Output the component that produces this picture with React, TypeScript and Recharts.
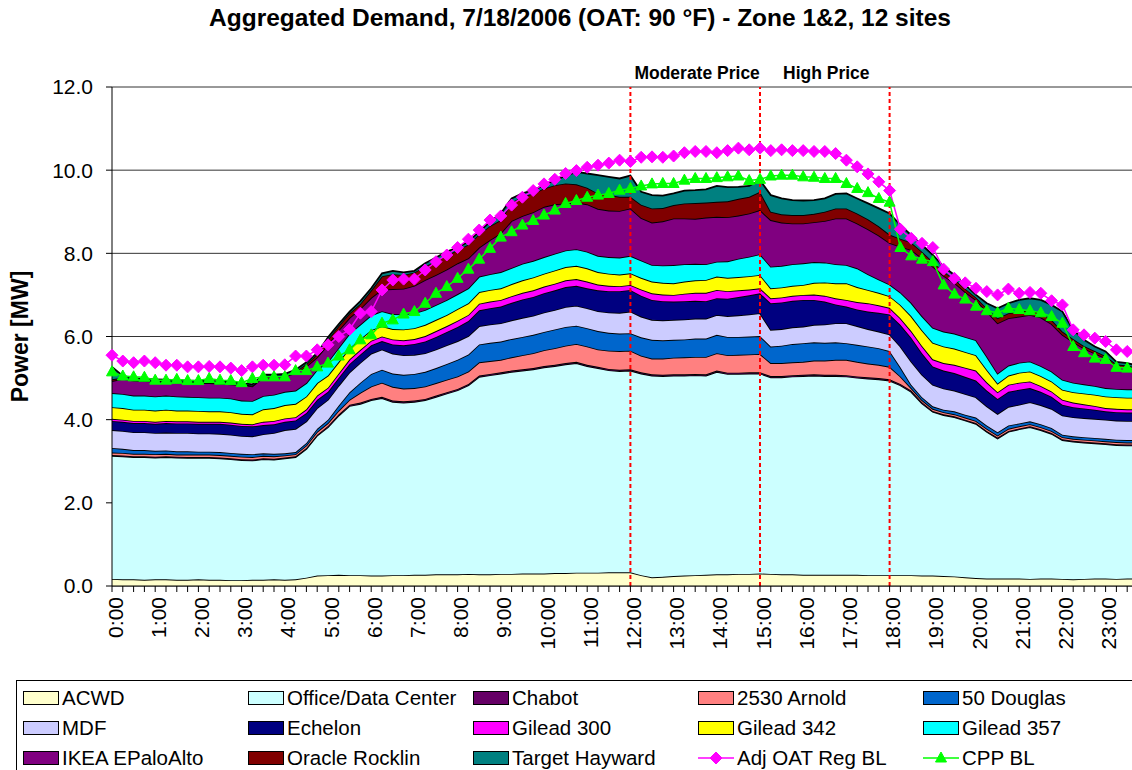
import React from 'react';
import { ComposedChart, Area, Line, XAxis, YAxis, CartesianGrid, ReferenceLine } from 'recharts';

const FONT = '"Liberation Sans", Arial, Helvetica, sans-serif';

// 15-minute intervals, 0:00 .. 23:45
const quarters = ['00', '15', '30', '45'];
const times = Array.from({ length: 96 }, (_, i) => `${Math.floor(i / 4)}:${quarters[i % 4]}`);

const yTicks = [0, 2, 4, 6, 8, 10, 12];

// stacked site loads [MW], one row per hour
const acwd = [
  0.17, 0.16, 0.16, 0.15, 0.16, 0.16, 0.15, 0.15, 0.16, 0.15, 0.15, 0.14,
  0.14, 0.15, 0.15, 0.16, 0.15, 0.16, 0.2, 0.25, 0.26, 0.27, 0.26, 0.26,
  0.25, 0.25, 0.26, 0.26, 0.27, 0.27, 0.28, 0.28, 0.28, 0.29, 0.28, 0.28,
  0.29, 0.29, 0.3, 0.3, 0.3, 0.31, 0.31, 0.32, 0.32, 0.32, 0.33, 0.33,
  0.33, 0.26, 0.21, 0.22, 0.24, 0.25, 0.26, 0.27, 0.28, 0.28, 0.29, 0.29,
  0.3, 0.29, 0.28, 0.28, 0.27, 0.27, 0.27, 0.27, 0.27, 0.27, 0.26, 0.26,
  0.26, 0.26, 0.26, 0.25, 0.25, 0.24, 0.23, 0.21, 0.19, 0.18, 0.18, 0.18,
  0.18, 0.17, 0.18, 0.18, 0.17, 0.16, 0.17, 0.18, 0.18, 0.17, 0.18, 0.18,
];
const office = [
  2.96, 2.96, 2.94, 2.95, 2.93, 2.94, 2.94, 2.93, 2.92, 2.93, 2.92, 2.91,
  2.89, 2.87, 2.9, 2.88, 2.92, 2.94, 3.1, 3.37, 3.56, 3.83, 4.07, 4.12,
  4.22, 4.27, 4.17, 4.15, 4.16, 4.2, 4.27, 4.35, 4.43, 4.54, 4.75, 4.79,
  4.82, 4.86, 4.88, 4.91, 4.96, 4.98, 5.02, 5.04, 4.97, 4.92, 4.86, 4.84,
  4.85, 4.85, 4.85, 4.83, 4.82, 4.81, 4.81, 4.79, 4.87, 4.82, 4.81, 4.82,
  4.81, 4.73, 4.74, 4.76, 4.78, 4.79, 4.78, 4.78, 4.77, 4.74, 4.73, 4.71,
  4.68, 4.57, 4.41, 4.14, 3.94, 3.87, 3.83, 3.77, 3.71, 3.53, 3.37, 3.53,
  3.59, 3.65, 3.57, 3.48, 3.34, 3.31, 3.28, 3.25, 3.23, 3.22, 3.2, 3.2,
];
const chabot = [
  0.02, 0.02, 0.02, 0.02, 0.02, 0.02, 0.02, 0.02, 0.02, 0.02, 0.02, 0.02,
  0.02, 0.02, 0.02, 0.02, 0.02, 0.02, 0.02, 0.02, 0.03, 0.03, 0.03, 0.03,
  0.03, 0.03, 0.03, 0.03, 0.03, 0.03, 0.03, 0.03, 0.03, 0.03, 0.03, 0.03,
  0.03, 0.03, 0.03, 0.03, 0.03, 0.03, 0.03, 0.03, 0.03, 0.03, 0.03, 0.03,
  0.03, 0.03, 0.03, 0.03, 0.03, 0.03, 0.03, 0.03, 0.03, 0.03, 0.03, 0.03,
  0.03, 0.03, 0.03, 0.03, 0.03, 0.03, 0.03, 0.03, 0.03, 0.03, 0.03, 0.03,
  0.03, 0.03, 0.03, 0.03, 0.02, 0.02, 0.02, 0.02, 0.02, 0.02, 0.02, 0.02,
  0.02, 0.02, 0.02, 0.02, 0.02, 0.02, 0.02, 0.02, 0.02, 0.02, 0.02, 0.02,
];
const arnold = [
  0.06, 0.06, 0.06, 0.06, 0.06, 0.06, 0.05, 0.06, 0.06, 0.06, 0.06, 0.06,
  0.06, 0.06, 0.06, 0.06, 0.05, 0.05, 0.06, 0.07, 0.07, 0.09, 0.12, 0.24,
  0.3, 0.34, 0.33, 0.31, 0.3, 0.3, 0.3, 0.3, 0.3, 0.3, 0.32, 0.31,
  0.3, 0.32, 0.34, 0.36, 0.38, 0.4, 0.42, 0.43, 0.44, 0.42, 0.44, 0.45,
  0.45, 0.4, 0.38, 0.39, 0.4, 0.41, 0.41, 0.42, 0.42, 0.42, 0.43, 0.43,
  0.44, 0.31, 0.31, 0.31, 0.31, 0.33, 0.34, 0.36, 0.37, 0.35, 0.33, 0.32,
  0.3, 0.18, 0.06, 0.05, 0.05, 0.05, 0.05, 0.05, 0.05, 0.05, 0.05, 0.05,
  0.05, 0.05, 0.05, 0.05, 0.05, 0.05, 0.05, 0.05, 0.05, 0.05, 0.05, 0.05,
];
const douglas = [
  0.11, 0.1, 0.09, 0.09, 0.08, 0.08, 0.08, 0.08, 0.07, 0.07, 0.07, 0.07,
  0.07, 0.07, 0.06, 0.06, 0.05, 0.05, 0.06, 0.07, 0.08, 0.12, 0.18, 0.24,
  0.3, 0.31, 0.32, 0.33, 0.34, 0.35, 0.36, 0.38, 0.4, 0.41, 0.43, 0.44,
  0.44, 0.44, 0.44, 0.44, 0.44, 0.45, 0.45, 0.44, 0.44, 0.44, 0.43, 0.42,
  0.42, 0.44, 0.45, 0.44, 0.43, 0.43, 0.44, 0.44, 0.44, 0.44, 0.43, 0.43,
  0.43, 0.4, 0.42, 0.44, 0.45, 0.44, 0.43, 0.42, 0.4, 0.41, 0.41, 0.4,
  0.38, 0.22, 0.08, 0.07, 0.06, 0.06, 0.07, 0.07, 0.08, 0.08, 0.08, 0.08,
  0.07, 0.07, 0.07, 0.07, 0.06, 0.06, 0.06, 0.06, 0.06, 0.06, 0.06, 0.06,
];
const mdf = [
  0.43, 0.43, 0.43, 0.43, 0.43, 0.43, 0.44, 0.44, 0.44, 0.44, 0.44, 0.44,
  0.43, 0.43, 0.46, 0.5, 0.56, 0.56, 0.52, 0.5, 0.48, 0.48, 0.48, 0.48,
  0.49, 0.49, 0.48, 0.47, 0.46, 0.45, 0.45, 0.45, 0.45, 0.44, 0.44, 0.44,
  0.44, 0.45, 0.46, 0.46, 0.47, 0.47, 0.48, 0.48, 0.48, 0.48, 0.49, 0.5,
  0.52, 0.5, 0.48, 0.48, 0.48, 0.48, 0.48, 0.48, 0.48, 0.5, 0.52, 0.53,
  0.55, 0.4, 0.4, 0.4, 0.4, 0.42, 0.44, 0.46, 0.48, 0.45, 0.42, 0.4,
  0.4, 0.5, 0.56, 0.54, 0.52, 0.51, 0.5, 0.5, 0.49, 0.46, 0.44, 0.45,
  0.45, 0.46, 0.46, 0.46, 0.46, 0.46, 0.46, 0.46, 0.46, 0.46, 0.46, 0.46,
];
const echelon = [
  0.22, 0.22, 0.22, 0.22, 0.22, 0.23, 0.23, 0.23, 0.23, 0.23, 0.24, 0.24,
  0.24, 0.24, 0.22, 0.21, 0.2, 0.2, 0.2, 0.2, 0.19, 0.19, 0.2, 0.2,
  0.2, 0.2, 0.22, 0.24, 0.26, 0.28, 0.3, 0.32, 0.34, 0.36, 0.38, 0.39,
  0.4, 0.42, 0.44, 0.45, 0.46, 0.47, 0.48, 0.48, 0.48, 0.5, 0.51, 0.52,
  0.52, 0.5, 0.48, 0.46, 0.44, 0.44, 0.43, 0.42, 0.4, 0.42, 0.44, 0.46,
  0.48, 0.64, 0.64, 0.64, 0.64, 0.6, 0.55, 0.45, 0.4, 0.4, 0.42, 0.45,
  0.48, 0.52, 0.57, 0.52, 0.44, 0.43, 0.42, 0.41, 0.4, 0.38, 0.36, 0.36,
  0.36, 0.34, 0.32, 0.29, 0.26, 0.24, 0.23, 0.22, 0.2, 0.2, 0.2, 0.2,
];
const gilead300 = [
  0.05, 0.05, 0.05, 0.05, 0.05, 0.05, 0.05, 0.05, 0.05, 0.05, 0.05, 0.05,
  0.05, 0.05, 0.08, 0.08, 0.08, 0.08, 0.09, 0.1, 0.1, 0.1, 0.11, 0.11,
  0.11, 0.11, 0.12, 0.12, 0.12, 0.13, 0.14, 0.14, 0.15, 0.15, 0.16, 0.16,
  0.16, 0.16, 0.16, 0.16, 0.16, 0.16, 0.16, 0.16, 0.16, 0.14, 0.13, 0.12,
  0.12, 0.15, 0.16, 0.16, 0.16, 0.18, 0.19, 0.2, 0.2, 0.18, 0.16, 0.14,
  0.12, 0.12, 0.12, 0.12, 0.12, 0.13, 0.14, 0.15, 0.16, 0.18, 0.2, 0.18,
  0.16, 0.16, 0.16, 0.17, 0.17, 0.18, 0.2, 0.22, 0.24, 0.2, 0.16, 0.17,
  0.17, 0.16, 0.14, 0.13, 0.12, 0.11, 0.1, 0.09, 0.08, 0.08, 0.08, 0.08,
];
const gilead342 = [
  0.28, 0.28, 0.27, 0.27, 0.27, 0.27, 0.26, 0.26, 0.26, 0.25, 0.25, 0.25,
  0.24, 0.24, 0.3, 0.31, 0.32, 0.32, 0.31, 0.3, 0.29, 0.28, 0.27, 0.26,
  0.25, 0.25, 0.25, 0.26, 0.26, 0.27, 0.27, 0.27, 0.28, 0.28, 0.28, 0.28,
  0.28, 0.29, 0.3, 0.31, 0.31, 0.32, 0.32, 0.32, 0.32, 0.3, 0.29, 0.28,
  0.28, 0.28, 0.28, 0.28, 0.28, 0.29, 0.3, 0.31, 0.32, 0.32, 0.32, 0.32,
  0.32, 0.24, 0.24, 0.24, 0.24, 0.28, 0.32, 0.36, 0.4, 0.36, 0.32, 0.3,
  0.28, 0.32, 0.36, 0.38, 0.4, 0.4, 0.39, 0.38, 0.37, 0.3, 0.21, 0.22,
  0.24, 0.24, 0.24, 0.24, 0.24, 0.25, 0.26, 0.27, 0.28, 0.28, 0.28, 0.28,
];
const gilead357 = [
  0.34, 0.34, 0.34, 0.34, 0.34, 0.34, 0.34, 0.33, 0.33, 0.33, 0.33, 0.33,
  0.32, 0.32, 0.32, 0.32, 0.32, 0.32, 0.32, 0.32, 0.33, 0.34, 0.35, 0.35,
  0.36, 0.36, 0.36, 0.36, 0.36, 0.36, 0.36, 0.36, 0.36, 0.36, 0.37, 0.38,
  0.39, 0.39, 0.4, 0.4, 0.4, 0.4, 0.4, 0.4, 0.4, 0.39, 0.4, 0.41,
  0.42, 0.42, 0.4, 0.42, 0.44, 0.42, 0.4, 0.38, 0.36, 0.4, 0.44, 0.47,
  0.5, 0.52, 0.52, 0.52, 0.52, 0.5, 0.48, 0.46, 0.44, 0.45, 0.38, 0.32,
  0.28, 0.3, 0.32, 0.34, 0.36, 0.36, 0.36, 0.36, 0.36, 0.32, 0.24, 0.24,
  0.24, 0.24, 0.24, 0.24, 0.24, 0.23, 0.22, 0.21, 0.2, 0.2, 0.2, 0.2,
];
const ikea = [
  0.29, 0.36, 0.36, 0.35, 0.36, 0.33, 0.34, 0.34, 0.34, 0.35, 0.34, 0.34,
  0.37, 0.35, 0.45, 0.42, 0.37, 0.42, 0.4, 0.3, 0.42, 0.42, 0.38, 0.38,
  0.42, 0.52, 0.6, 0.62, 0.66, 0.72, 0.72, 0.73, 0.74, 0.72, 0.7, 0.82,
  0.93, 1.13, 1.15, 1.17, 1.21, 1.19, 1.13, 1.12, 1.14, 1.13, 1.12, 1.12,
  1.14, 1.02, 1.02, 1.06, 1.12, 1.1, 1.08, 1.12, 1.08, 1.06, 1.04, 1.04,
  1.06, 1.12, 1.04, 0.98, 0.96, 0.96, 1.0, 1.1, 1.12, 1.08, 1.08, 1.06,
  1.0, 1.1, 1.27, 1.4, 1.47, 1.34, 1.22, 1.08, 0.97, 1.08, 1.21, 1.14,
  1.11, 1.12, 1.17, 1.14, 1.08, 0.98, 0.86, 0.78, 0.72, 0.54, 0.52, 0.47,
];
const oracle = [
  0.04, 0.03, 0.03, 0.02, 0.02, 0.02, 0.02, 0.02, 0.02, 0.02, 0.02, 0.02,
  0.02, 0.02, 0.03, 0.03, 0.03, 0.04, 0.06, 0.07, 0.12, 0.11, 0.11, 0.12,
  0.18, 0.32, 0.36, 0.33, 0.32, 0.33, 0.33, 0.34, 0.32, 0.33, 0.32, 0.34,
  0.32, 0.44, 0.46, 0.45, 0.44, 0.46, 0.48, 0.44, 0.4, 0.37, 0.38, 0.34,
  0.28, 0.32, 0.34, 0.32, 0.32, 0.36, 0.38, 0.36, 0.36, 0.38, 0.4, 0.4,
  0.44, 0.2, 0.2, 0.2, 0.2, 0.2, 0.22, 0.24, 0.24, 0.24, 0.24, 0.22,
  0.2, 0.19, 0.18, 0.15, 0.12, 0.1, 0.09, 0.08, 0.06, 0.08, 0.12, 0.12,
  0.12, 0.12, 0.11, 0.1, 0.08, 0.07, 0.06, 0.06, 0.05, 0.05, 0.05, 0.05,
];
const target = [
  0.3, 0.04, 0.03, 0.03, 0.03, 0.03, 0.03, 0.03, 0.03, 0.03, 0.03, 0.03,
  0.03, 0.03, 0.03, 0.03, 0.03, 0.04, 0.04, 0.03, 0.05, 0.04, 0.04, 0.06,
  0.05, 0.07, 0.08, 0.06, 0.04, 0.07, 0.09, 0.09, 0.06, 0.07, 0.06, 0.1,
  0.16, 0.1, 0.08, 0.08, 0.08, 0.12, 0.18, 0.3, 0.34, 0.44, 0.43, 0.44,
  0.51, 0.31, 0.32, 0.3, 0.28, 0.31, 0.31, 0.32, 0.38, 0.34, 0.29, 0.26,
  0.28, 0.4, 0.38, 0.36, 0.35, 0.33, 0.32, 0.35, 0.36, 0.36, 0.38, 0.43,
  0.51, 0.33, 0.18, 0.16, 0.16, 0.12, 0.1, 0.09, 0.06, 0.12, 0.24, 0.24,
  0.28, 0.28, 0.31, 0.36, 0.48, 0.22, 0.15, 0.11, 0.11, 0.06, 0.06, 0.05,
];

// baselines [MW]
const adjOatRegBl = [
  5.55, 5.41, 5.37, 5.41, 5.37, 5.31, 5.31, 5.27, 5.27, 5.28, 5.27, 5.24,
  5.18, 5.27, 5.31, 5.31, 5.32, 5.53, 5.53, 5.68, 5.8, 6.0, 6.17, 6.56,
  6.6, 7.12, 7.36, 7.38, 7.38, 7.6, 7.8, 7.96, 8.14, 8.34, 8.56, 8.8,
  8.9, 9.16, 9.35, 9.51, 9.67, 9.78, 9.92, 9.99, 10.07, 10.12, 10.17, 10.24,
  10.21, 10.31, 10.32, 10.31, 10.34, 10.42, 10.45, 10.45, 10.42, 10.47, 10.53, 10.49,
  10.53, 10.47, 10.49, 10.47, 10.47, 10.45, 10.45, 10.4, 10.24, 10.08, 9.91, 9.72,
  9.51, 8.58, 8.36, 8.24, 8.14, 7.62, 7.4, 7.29, 7.16, 7.08, 7.0, 7.14,
  7.04, 7.06, 7.04, 6.86, 6.76, 6.16, 6.04, 5.96, 5.88, 5.68, 5.64, 5.62,
];
const cppBl = [
  5.15, 5.05, 5.03, 5.02, 4.95, 4.95, 4.97, 4.94, 4.94, 4.99, 4.95, 4.94,
  4.89, 4.99, 5.03, 5.03, 5.03, 5.18, 5.18, 5.27, 5.36, 5.53, 5.68, 5.92,
  6.04, 6.32, 6.4, 6.54, 6.6, 6.8, 7.04, 7.2, 7.4, 7.62, 7.86, 8.12,
  8.39, 8.52, 8.68, 8.79, 8.92, 9.04, 9.2, 9.27, 9.35, 9.4, 9.44, 9.52,
  9.56, 9.62, 9.67, 9.68, 9.68, 9.76, 9.8, 9.8, 9.82, 9.84, 9.86, 9.75,
  9.78, 9.86, 9.88, 9.88, 9.84, 9.83, 9.8, 9.8, 9.68, 9.56, 9.46, 9.32,
  9.23, 8.14, 7.94, 7.86, 7.8, 7.24, 7.02, 6.9, 6.73, 6.62, 6.57, 6.68,
  6.65, 6.62, 6.57, 6.48, 6.32, 5.76, 5.61, 5.48, 5.45, 5.26, 5.24, 5.22,
];

const areaSeries = [
  { key: 'acwd', name: 'ACWD', color: '#FFFFCC', values: acwd },
  { key: 'office', name: 'Office/Data Center', color: '#CCFFFF', values: office },
  { key: 'chabot', name: 'Chabot', color: '#660066', values: chabot },
  { key: 'arnold', name: '2530 Arnold', color: '#FF8080', values: arnold },
  { key: 'douglas', name: '50 Douglas', color: '#0066CC', values: douglas },
  { key: 'mdf', name: 'MDF', color: '#CCCCFF', values: mdf },
  { key: 'echelon', name: 'Echelon', color: '#000080', values: echelon },
  { key: 'g300', name: 'Gilead 300', color: '#FF00FF', values: gilead300 },
  { key: 'g342', name: 'Gilead 342', color: '#FFFF00', values: gilead342 },
  { key: 'g357', name: 'Gilead 357', color: '#00FFFF', values: gilead357 },
  { key: 'ikea', name: 'IKEA EPaloAlto', color: '#800080', values: ikea },
  { key: 'oracle', name: 'Oracle Rocklin', color: '#800000', values: oracle },
  { key: 'target', name: 'Target Hayward', color: '#008080', values: target },
];

const lineSeries = [
  { key: 'adj', name: 'Adj OAT Reg BL', color: '#FF00FF', marker: 'diamond', values: adjOatRegBl },
  { key: 'cpp', name: 'CPP BL', color: '#00FF00', marker: 'triangle', values: cppBl },
];

const data = times.map((time, i) => {
  const row: Record<string, number | string> = { time };
  areaSeries.forEach((s) => (row[s.key] = s.values[i]));
  lineSeries.forEach((s) => (row[s.key] = s.values[i]));
  return row;
});

const markerPoints = (shape: string, cx: number, cy: number) =>
  shape === 'diamond'
    ? `${cx},${cy - 6} ${cx + 6},${cy} ${cx},${cy + 6} ${cx - 6},${cy}`
    : `${cx},${cy - 6} ${cx + 5.5},${cy + 4} ${cx - 5.5},${cy + 4}`;

const makeDot = (shape: string, color: string) => (props: any) => {
  const { cx, cy, index } = props;
  if (cx == null || cy == null) return <g key={`m-${shape}-${index}`} />;
  return <polygon key={`m-${shape}-${index}`} points={markerPoints(shape, cx, cy)} fill={color} stroke={color} />;
};

const HourTick = (props: any) => {
  const { x, y, payload } = props;
  const label = String(payload.value);
  if (!label.endsWith(':00')) return <g />;
  const tx = x + 3;
  const ty = y + 3;
  return (
    <text x={tx} y={ty} transform={`rotate(-90, ${tx}, ${ty})`} textAnchor="end" dominantBaseline="central"
      fontSize={21} fontFamily={FONT} fill="#000">
      {label}
    </text>
  );
};

const PriceLabel = (props: any) => {
  const { viewBox, text, dx } = props;
  if (!viewBox || !text) return null;
  return (
    <text x={viewBox.x + dx} y={viewBox.y - 8} fontSize={17.5} fontWeight="bold" fontFamily={FONT} fill="#000">
      {text}
    </text>
  );
};

const YTitle = (props: any) => {
  const { viewBox } = props;
  const cy = viewBox ? viewBox.y + viewBox.height / 2 : 336;
  return (
    <text x={20} y={cy} transform={`rotate(-90, 20, ${cy})`} textAnchor="middle" dominantBaseline="central"
      fontSize={23} fontWeight="bold" fontFamily={FONT} fill="#000">
      Power [MW]
    </text>
  );
};

const legendItems = [
  ...areaSeries.map((s) => ({ name: s.name, color: s.color, marker: '' })),
  ...lineSeries.map((s) => ({ name: s.name, color: s.color, marker: s.marker })),
];

const Legend = () => (
  <div style={{ position: 'absolute', left: 16, top: 680, width: 1140, height: 110, border: '1px solid #000', boxSizing: 'border-box', background: '#fff' }}>
    {legendItems.map((item, k) => {
      const col = k % 5;
      const row = Math.floor(k / 5);
      const left = 6 + col * 225;
      const cy = 17 + row * 30;
      return (
        <div key={item.name} style={{ position: 'absolute', left, top: cy - 12, height: 24, display: 'flex', alignItems: 'center' }}>
          {item.marker ? (
            <svg width={36} height={16} style={{ display: 'block' }}>
              <line x1={0} y1={8} x2={36} y2={8} stroke={item.color} strokeWidth={1.5} />
              <polygon points={markerPoints(item.marker, 18, 8)} fill={item.color} stroke={item.color} />
            </svg>
          ) : (
            <div style={{ width: 36, height: 14, background: item.color, border: '1.5px solid #000', boxSizing: 'border-box' }} />
          )}
          <span style={{ marginLeft: 3, fontSize: 20.5, lineHeight: '24px', whiteSpace: 'nowrap', color: '#000' }}>{item.name}</span>
        </div>
      );
    })}
  </div>
);

export default function App() {
  return (
    <div style={{ position: 'absolute', left: 0, top: 0, width: 1132, height: 770, overflow: 'hidden', background: '#fff', fontFamily: FONT }}>
      <div style={{ position: 'absolute', left: 0, top: 4, width: 1160, textAlign: 'center', fontSize: 24.5, fontWeight: 'bold', whiteSpace: 'nowrap' }}>
        Aggregated Demand, 7/18/2006 (OAT: 90 °F) - Zone 1&amp;2, 12 sites
      </div>
      <div style={{ position: 'absolute', left: 0, top: 0 }}>
        <ComposedChart width={1150} height={770} data={data} margin={{ top: 87, right: 12, bottom: 104, left: 0 }}>
          <CartesianGrid vertical={false} stroke="#333" />
          <XAxis dataKey="time" scale="point" interval={0} height={80} tickSize={6} tick={<HourTick />}
            axisLine={{ stroke: '#000' }} tickLine={{ stroke: '#000' }} />
          <YAxis width={112} domain={[0, 12]} ticks={yTicks} tickFormatter={(v: number) => v.toFixed(1)}
            tickSize={6} tickMargin={13} axisLine={{ stroke: '#000' }} tickLine={{ stroke: '#000' }}
            tick={{ fontSize: 21, fill: '#000', fontFamily: FONT }} label={<YTitle />} />
          {areaSeries.map((s) => (
            <Area key={s.key} type="linear" dataKey={s.key} name={s.name} stackId="sites" fill={s.color} fillOpacity={1}
              stroke="#000" strokeWidth={1.8} isAnimationActive={false} dot={false} activeDot={false} />
          ))}
          <ReferenceLine x="12:00" stroke="#FF0000" strokeWidth={2} strokeDasharray="4 3"
            label={<PriceLabel text="Moderate Price" dx={4} />} />
          <ReferenceLine x="15:00" stroke="#FF0000" strokeWidth={2} strokeDasharray="4 3"
            label={<PriceLabel text="High Price" dx={23} />} />
          <ReferenceLine x="18:00" stroke="#FF0000" strokeWidth={2} strokeDasharray="4 3" />
          {lineSeries.map((s) => (
            <Line key={s.key} type="linear" dataKey={s.key} name={s.name} stroke={s.color} strokeWidth={1.5}
              dot={makeDot(s.marker, s.color)} activeDot={false} isAnimationActive={false} />
          ))}
        </ComposedChart>
      </div>
      <Legend />
    </div>
  );
}
